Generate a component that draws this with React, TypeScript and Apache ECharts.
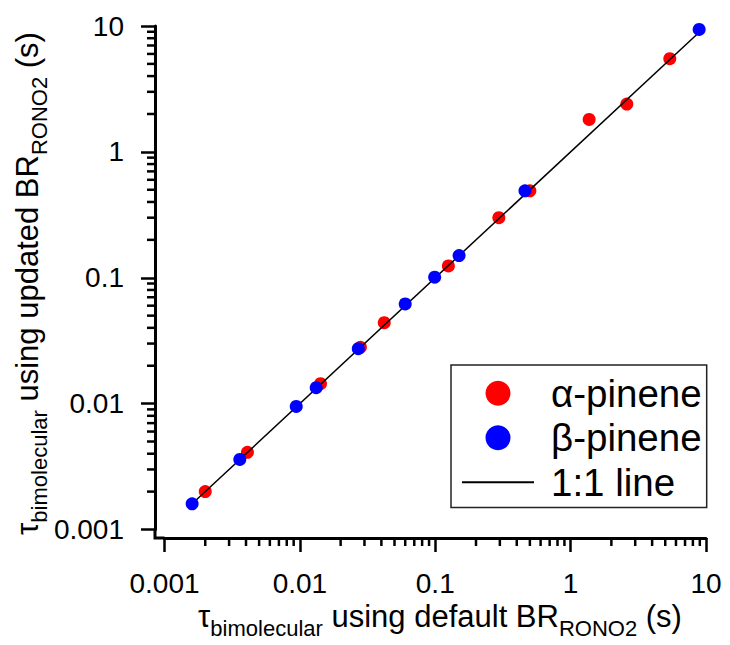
import React, { useEffect, useRef } from "react";
import * as echarts from "echarts";

// α-pinene: default BR (x) vs updated BR (y), seconds
const alphaX = [0.002, 0.0041, 0.0142, 0.028, 0.042, 0.125, 0.295, 0.5, 1.37, 2.6, 5.4];
const alphaY = [0.002, 0.0041, 0.0144, 0.028, 0.044, 0.124, 0.3, 0.49, 1.81, 2.4, 5.5];
// β-pinene
const betaX = [0.0016, 0.0036, 0.0094, 0.0132, 0.027, 0.06, 0.099, 0.15, 0.46, 8.9];
const betaY = [0.0016, 0.0036, 0.0095, 0.0134, 0.0273, 0.062, 0.101, 0.15, 0.49, 9.4];
// 1:1 line end points
const lineX = [0.0016, 9.2];
const lineY = [0.0016, 9.2];
// tick labels (decades)
const tickLabels = ["0.001", "0.01", "0.1", "1", "10"];
const axisMin = 0.001;
const axisMax = 10;
// axis titles: [text, isSubscript]
const xTitle: [string, boolean][] = [
  ["τ", false],
  ["bimolecular", true],
  [" using default BR", false],
  ["RONO2", true],
  [" (s)", false],
];
const yTitle: [string, boolean][] = [
  ["τ", false],
  ["bimolecular", true],
  [" using updated BR", false],
  ["RONO2", true],
  [" (s)", false],
];

const FONT = "'Liberation Sans', Arial, sans-serif";
const W = 730;
const H = 645;
const GRID = { left: 164.5, right: 24, top: 26, bottom: 115.5 };
const X_OFF = 8.5; // x axis line shifted down
const Y_OFF = 9.5; // y axis line shifted left
const MAIN_FS = 31;
const SUB_FS = 22;

const fmt = (v: number) => {
  const i = Math.round(Math.log10(v)) + 3;
  return tickLabels[i] ?? String(v);
};

function titleChildren(tokens: [string, boolean][]) {
  const ctx = document.createElement("canvas").getContext("2d")!;
  const widths = tokens.map(([t, sub]) => {
    ctx.font = `${sub ? SUB_FS : MAIN_FS}px ${FONT}`;
    return ctx.measureText(t).width;
  });
  const total = widths.reduce((a, b) => a + b, 0);
  let cx = -total / 2;
  // local y = 0 is the main baseline
  const mainCenter = -0.3465 * MAIN_FS;
  const subCenter = 9 - 0.3465 * SUB_FS;
  return tokens.map(([t, sub], i) => {
    const el = {
      type: "text",
      x: cx,
      y: sub ? subCenter : mainCenter,
      silent: true,
      style: {
        text: t,
        fontSize: sub ? SUB_FS : MAIN_FS,
        fontFamily: FONT,
        fill: "#000",
        align: "left",
        verticalAlign: "middle",
      },
    };
    cx += widths[i];
    return el;
  });
}

export default function App() {
  const ref = useRef<HTMLDivElement>(null);
  useEffect(() => {
    if (!ref.current) return;
    const chart = echarts.init(ref.current, null, { renderer: "svg" });
    const axisCommon = {
      type: "log" as const,
      logBase: 10,
      min: axisMin,
      max: axisMax,
      axisLine: { show: true, lineStyle: { color: "#000", width: 3 } },
      axisTick: { show: true, length: 14, lineStyle: { color: "#000", width: 2.5 } },
      splitLine: { show: false },
      axisLabel: {
        color: "#000",
        fontSize: 28,
        fontFamily: FONT,
        formatter: fmt,
        showMinLabel: true,
        showMaxLabel: true,
      },
    };
    chart.setOption({
      animation: false,
      backgroundColor: "#fff",
      grid: { ...GRID, containLabel: false },
      xAxis: { ...axisCommon, offset: X_OFF, axisLabel: { ...axisCommon.axisLabel, margin: 31 } },
      yAxis: { ...axisCommon, offset: Y_OFF, axisLabel: { ...axisCommon.axisLabel, margin: 31 } },
      legend: {
        left: 451,
        top: 365,
        orient: "vertical",
        padding: [8.75, 5, 5.75, 10],
        itemGap: 5.5,
        itemWidth: 72,
        itemHeight: 25,
        borderColor: "#222",
        borderWidth: 1.5,
        borderRadius: 0,
        textStyle: { fontSize: 38.5, fontFamily: FONT, color: "#000", padding: [0, 0, 0, 12] },
        data: [
          { name: "α-pinene", icon: "circle" },
          { name: "β-pinene", icon: "circle" },
          { name: "1:1 line", itemStyle: { color: "rgba(0,0,0,0)", opacity: 0, borderWidth: 0 } },
        ],
      },
      series: [
        {
          name: "α-pinene",
          type: "scatter",
          data: alphaX.map((x, i) => [x, alphaY[i]]),
          symbol: "circle",
          symbolSize: 13,
          itemStyle: { color: "#ff0000", opacity: 1 },
          z: 2,
        },
        {
          name: "1:1 line",
          type: "line",
          data: lineX.map((x, i) => [x, lineY[i]]),
          symbol: "none",
          showSymbol: false,
          lineStyle: { color: "#000", width: 1.5 },
          itemStyle: { color: "#000" },
          z: 3,
        },
        {
          name: "β-pinene",
          type: "scatter",
          data: betaX.map((x, i) => [x, betaY[i]]),
          symbol: "circle",
          symbolSize: 13,
          itemStyle: { color: "#0000ff", opacity: 1 },
          z: 4,
        },
      ],
    });

    const xp = (v: number) => chart.convertToPixel({ xAxisIndex: 0 }, v) as unknown as number;
    const yp = (v: number) => chart.convertToPixel({ yAxisIndex: 0 }, v) as unknown as number;
    const xLineY = H - GRID.bottom + X_OFF;
    const yLineX = GRID.left - Y_OFF;

    const elements: any[] = [];
    // minor ticks at 2..9 of each decade
    for (let e = -3; e < 1; e++) {
      for (let m = 2; m <= 9; m++) {
        const v = m * Math.pow(10, e);
        const px = xp(v);
        const py = yp(v);
        elements.push({
          type: "line",
          shape: { x1: px, y1: xLineY, x2: px, y2: xLineY + 8 },
          style: { stroke: "#000", lineWidth: 2.5 },
          silent: true,
        });
        elements.push({
          type: "line",
          shape: { x1: yLineX, y1: py, x2: yLineX - 8, y2: py },
          style: { stroke: "#000", lineWidth: 2.5 },
          silent: true,
        });
      }
    }
    // corner of the offset axes
    elements.push({
      type: "polyline",
      shape: {
        points: [
          [yLineX, yp(axisMin)],
          [yLineX, xLineY],
          [xp(axisMin), xLineY],
        ],
      },
      style: { stroke: "#000", lineWidth: 3, fill: null },
      silent: true,
    });
    // x axis title (baseline at y = 627.5)
    elements.push({
      type: "group",
      x: 440,
      y: 627.5,
      children: titleChildren(xTitle),
    });
    // y axis title, rotated (baseline at x = 38)
    elements.push({
      type: "group",
      x: 38,
      y: 283.5,
      rotation: Math.PI / 2,
      children: titleChildren(yTitle),
    });
    chart.setOption({ graphic: { elements } });

    return () => chart.dispose();
  }, []);
  return (
    <div
      ref={ref}
      style={{ position: "fixed", left: 0, top: 0, width: W, height: H, background: "#fff" }}
    />
  );
}
